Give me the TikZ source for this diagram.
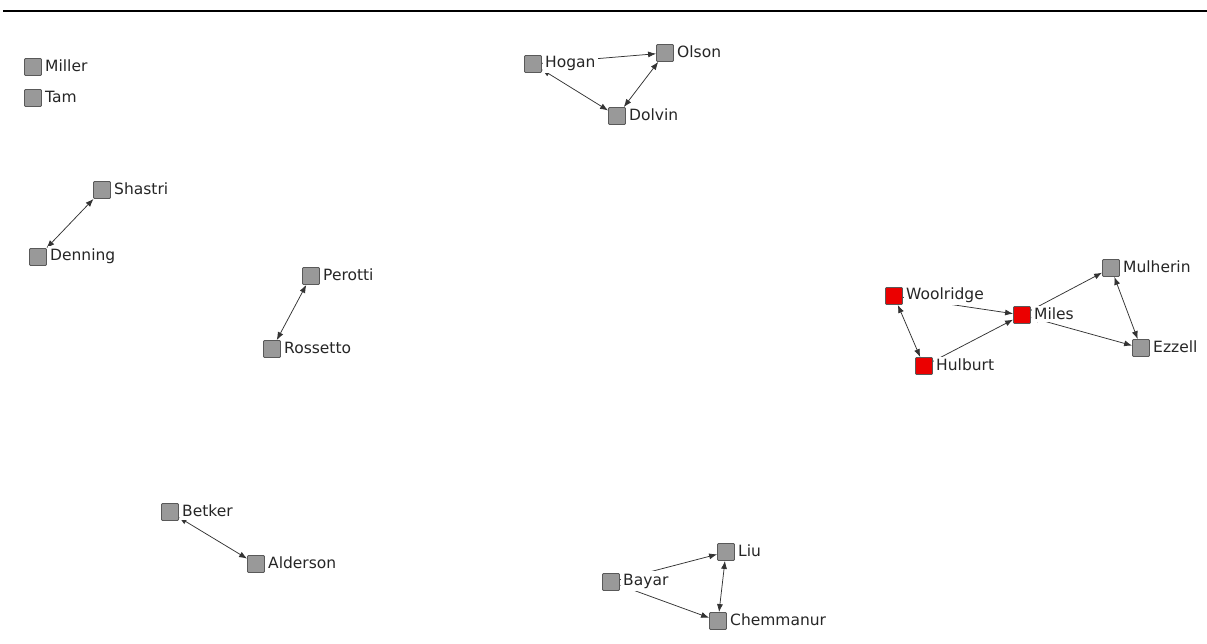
\documentclass[tikz,border=0pt]{standalone}
\usepackage{fontspec}
\setmainfont{DejaVu Sans}
\usetikzlibrary{arrows.meta}
\begin{document}
\begin{tikzpicture}[x=1pt, y=-1pt,
    actor/.style={draw=black!65, fill=black!40, minimum size=17pt, inner sep=0pt, rounded corners=1pt, line width=.8pt},
    hot/.style={actor, fill=red!92!black},
    lbl/.style={anchor=west, fill=white, inner sep=2.5pt, font=\fontsize{15.5}{17}\selectfont, text=black!85},
    tie/.style={draw=black!80, line width=.75pt, -{Latex[length=8pt, width=6pt]}},
    both/.style={tie, {Latex[length=8pt, width=6pt]}-{Latex[length=8pt, width=6pt]}}]
    \useasboundingbox(0, 0) rectangle (1207, 644);
    \draw[line width=1.6pt](3, 11)--(1207, 11);
    % actors
    \node[actor](miller)at(33, 67){};
    \node[actor](tam)at(33, 98){};
    \node[actor](hogan)at(533, 64){};
    \node[actor](olson)at(665, 53){};
    \node[actor](dolvin)at(617, 116){};
    \node[actor](shastri)at(102, 190){};
    \node[actor](denning)at(38, 257){};
    \node[actor](perotti)at(311, 276){};
    \node[actor](rossetto)at(272, 349){};
    \node[hot](woolridge)at(894, 296){};
    \node[hot](miles)at(1022, 315){};
    \node[hot](hulburt)at(924, 366){};
    \node[actor](mulherin)at(1111, 268){};
    \node[actor](ezzell)at(1141, 348){};
    \node[actor](betker)at(170, 512){};
    \node[actor](alderson)at(256, 564){};
    \node[actor](liu)at(726, 552){};
    \node[actor](bayar)at(611, 582){};
    \node[actor](chemmanur)at(718, 621){};
    % ties
    \draw[tie](hogan)--(olson);
    \draw[both](hogan)--(dolvin);
    \draw[both](dolvin)--(olson);
    \draw[both](denning)--(shastri);
    \draw[both](rossetto)--(perotti);
    \draw[tie](woolridge)--(miles);
    \draw[both](woolridge)--(hulburt);
    \draw[tie](hulburt)--(miles);
    \draw[tie](miles)--(mulherin);
    \draw[both](mulherin)--(ezzell);
    \draw[both](miles)--(ezzell);
    \draw[both](betker)--(alderson);
    \draw[tie](bayar)--(liu);
    \draw[both](liu)--(chemmanur);
    \draw[both](bayar)--(chemmanur);
    % names
    \foreach \n/\t in {miller/Miller, tam/Tam, hogan/Hogan, olson/Olson, dolvin/Dolvin,
        shastri/Shastri, denning/Denning, perotti/Perotti, rossetto/Rossetto,
        woolridge/Woolridge, miles/Miles, hulburt/Hulburt, mulherin/Mulherin,
        ezzell/Ezzell, betker/Betker, alderson/Alderson, liu/Liu, bayar/Bayar,
        chemmanur/Chemmanur}
        \node[lbl](\n-l)at([xshift=.6pt, yshift=1pt]\n.east){\t};
\end{tikzpicture}
\end{document}
